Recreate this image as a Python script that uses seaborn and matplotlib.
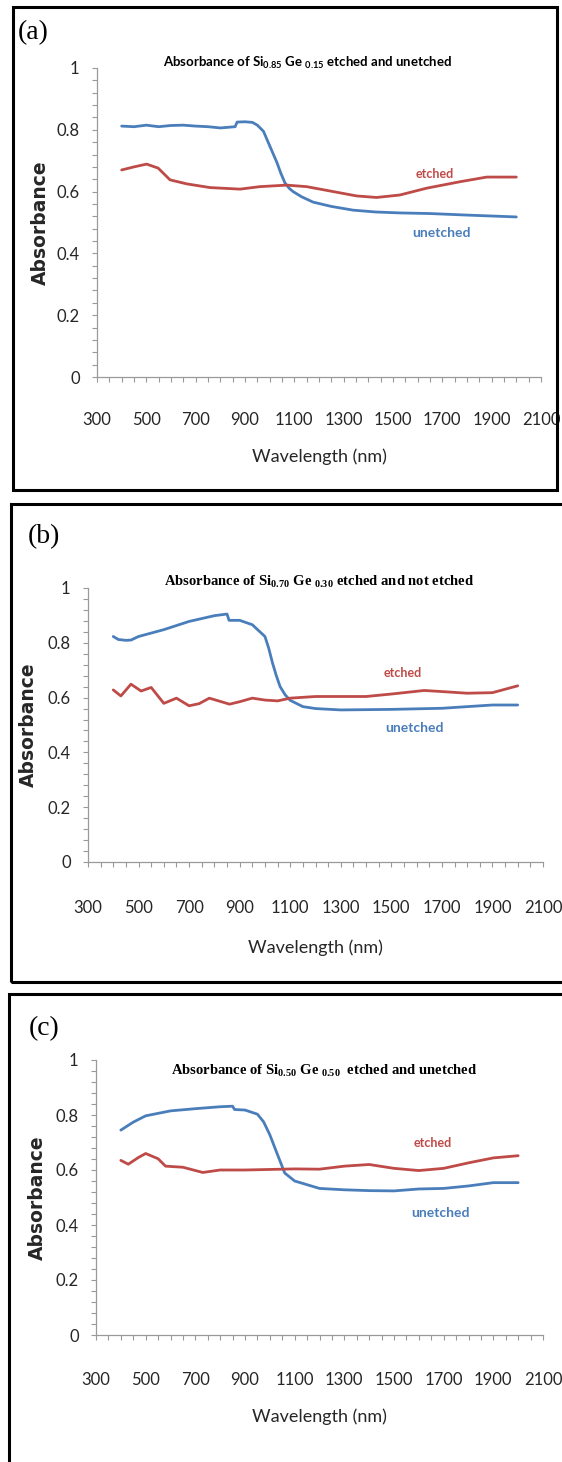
import matplotlib
matplotlib.use("Agg")
import matplotlib.pyplot as plt
from matplotlib.patches import Rectangle
from matplotlib.ticker import MultipleLocator, FuncFormatter
import pandas as pd
import seaborn as sns

# ---------------------------------------------------------------------------
# Data (wavelength in nm, absorbance)
# ---------------------------------------------------------------------------
# (a) Si0.85 Ge0.15
A_WL_UNETCHED = [400, 450, 500, 550, 600, 650, 700, 750, 800, 860, 868, 900, 930, 950,
                 975, 990, 1010, 1030, 1045, 1062, 1080, 1095, 1130, 1176, 1250, 1338,
                 1430, 1528, 1650, 1800, 1900, 2000]
A_AB_UNETCHED = [0.812, 0.810, 0.815, 0.810, 0.814, 0.815, 0.812, 0.810, 0.806, 0.810,
                 0.825, 0.826, 0.824, 0.815, 0.795, 0.767, 0.730, 0.693, 0.660, 0.628,
                 0.610, 0.600, 0.583, 0.566, 0.552, 0.540, 0.534, 0.531, 0.529, 0.524,
                 0.521, 0.518]
A_WL_ETCHED = [400, 450, 501, 548, 596, 664, 758, 880, 960, 1069, 1150, 1258, 1352,
               1433, 1528, 1636, 1772, 1880, 2000]
A_AB_ETCHED = [0.670, 0.680, 0.689, 0.676, 0.638, 0.625, 0.613, 0.608, 0.616, 0.621,
               0.616, 0.600, 0.586, 0.581, 0.589, 0.611, 0.632, 0.647, 0.647]

# (b) Si0.70 Ge0.30
B_WL_UNETCHED = [400, 420, 450, 470, 500, 600, 700, 800, 850, 858, 900, 950, 1000, 1015,
                 1030, 1045, 1060, 1080, 1100, 1150, 1200, 1300, 1500, 1700, 1900, 2000]
B_AB_UNETCHED = [0.823, 0.812, 0.809, 0.810, 0.823, 0.848, 0.878, 0.899, 0.905, 0.882,
                 0.882, 0.866, 0.823, 0.780, 0.726, 0.680, 0.640, 0.610, 0.590, 0.567,
                 0.560, 0.555, 0.557, 0.561, 0.573, 0.573]
B_WL_ETCHED = [400, 430, 470, 510, 550, 600, 650, 700, 740, 780, 860, 900, 950, 1000,
               1050, 1100, 1200, 1400, 1500, 1630, 1700, 1800, 1900, 2000]
B_AB_ETCHED = [0.628, 0.606, 0.649, 0.624, 0.637, 0.579, 0.598, 0.570, 0.578, 0.598,
               0.576, 0.585, 0.598, 0.591, 0.588, 0.598, 0.604, 0.604, 0.613, 0.626,
               0.622, 0.616, 0.618, 0.643]

# (c) Si0.50 Ge0.50
C_WL_UNETCHED = [400, 450, 500, 600, 700, 800, 850, 858, 900, 950, 975, 1000, 1030,
                 1060, 1100, 1200, 1300, 1400, 1500, 1600, 1700, 1800, 1900, 2000]
C_AB_UNETCHED = [0.745, 0.774, 0.797, 0.815, 0.823, 0.830, 0.832, 0.820, 0.818, 0.803,
                 0.775, 0.728, 0.658, 0.589, 0.560, 0.533, 0.528, 0.525, 0.524, 0.531,
                 0.533, 0.542, 0.554, 0.554]
C_WL_ETCHED = [400, 430, 470, 500, 550, 580, 650, 730, 800, 900, 1100, 1200, 1300,
               1400, 1500, 1600, 1700, 1800, 1900, 2000]
C_AB_ETCHED = [0.635, 0.621, 0.645, 0.660, 0.641, 0.614, 0.610, 0.591, 0.600, 0.600,
               0.604, 0.603, 0.614, 0.620, 0.606, 0.598, 0.606, 0.626, 0.644, 0.652]

X_TICKS = [300, 500, 700, 900, 1100, 1300, 1500, 1700, 1900, 2100]
TITLES = [
    r"Absorbance of Si$_\mathregular{0.85}$ Ge $_\mathregular{0.15}$ etched and unetched",
    r"Absorbance of Si$_\mathregular{0.70}$ Ge $_\mathregular{0.30}$ etched and not etched",
    r"Absorbance of Si$_\mathregular{0.50}$ Ge $_\mathregular{0.50}$  etched and unetched",
]
PANEL_TAGS = ["(a)", "(b)", "(c)"]
# where the "etched" / "unetched" notes sit, in data units
NOTE_ETCHED = [(1670, 0.657), (1547, 0.690), (1655, 0.698)]
NOTE_UNETCHED = [(1695, 0.466), (1590, 0.489), (1687, 0.444)]

# ---------------------------------------------------------------------------
# Layout (pixels of the 562x1462 image)
# ---------------------------------------------------------------------------
W, H, DPI = 562, 1462, 100
BLUE = "#4a7ebb"
RED = "#be4b48"
AXIS_GREY = "#9a9a9a"
TEXT_GREY = "#262626"

LAYOUT = [
    dict(box=(13, 7, 557, 490), axes=(97, 68, 541, 377), title=(308, 63), tag=(33, 33),
         ylab_x=40, xlab_y=457, tick_y=417, title_font="Lato", title_size=9.5),
    dict(box=(11, 504, 640, 982), axes=(88, 588, 543, 862), title=(319, 582), tag=(44, 537),
         ylab_x=28, xlab_y=948, tick_y=905, title_font="Liberation Serif", title_size=10.5),
    dict(box=(9, 994, 640, 1520), axes=(96, 1060, 543, 1335), title=(324, 1071), tag=(44, 1029),
         ylab_x=37, xlab_y=1417, tick_y=1377, title_font="Liberation Serif", title_size=10.5),
]


def fx(x):
    return x / W


def fy(y):
    return 1 - y / H


def draw_panel(fig, lay, wl_u, ab_u, wl_e, ab_e, title, tag, note_e, note_u):
    """Draw one absorbance panel with its frame and labels."""
    l, t, r, b = lay["axes"]
    ax = fig.add_axes([fx(l), fy(b), fx(r) - fx(l), (b - t) / H])
    ax.set_facecolor("none")

    df = pd.concat([
        pd.DataFrame({"wl": wl_u, "ab": ab_u, "kind": "unetched"}),
        pd.DataFrame({"wl": wl_e, "ab": ab_e, "kind": "etched"}),
    ])
    sns.lineplot(data=df, x="wl", y="ab", hue="kind", estimator=None,
                 palette={"unetched": BLUE, "etched": RED}, linewidth=2.0,
                 legend=False, ax=ax)

    ax.set_xlim(300, 2100)
    ax.set_ylim(0, 1)
    ax.set_xticks(X_TICKS)
    ax.xaxis.set_minor_locator(MultipleLocator(50))
    ax.yaxis.set_major_locator(MultipleLocator(0.2))
    ax.yaxis.set_minor_locator(MultipleLocator(0.04))
    ax.yaxis.set_major_formatter(FuncFormatter(lambda v, p: f"{v:g}"))
    ax.set_xlabel("")
    ax.set_ylabel("")

    for side in ["top", "right"]:
        ax.spines[side].set_visible(False)
    for side in ["left", "bottom"]:
        ax.spines[side].set_color(AXIS_GREY)
        ax.spines[side].set_linewidth(0.9)

    xpad = (lay["tick_y"] - b - 4 - 6) * 0.72
    ax.tick_params(which="both", direction="out", length=3.5, width=0.8,
                   color=AXIS_GREY, labelcolor=TEXT_GREY, bottom=True, left=True)
    ax.tick_params(axis="x", which="major", pad=xpad, labelsize=12)
    ax.tick_params(axis="y", which="major", pad=9, labelsize=12)
    for lab in ax.get_xticklabels() + ax.get_yticklabels():
        lab.set_fontfamily("Lato")

    # in-plot notes
    ax.text(*note_e, "etched", color=RED, fontsize=9, fontfamily="Lato",
            fontweight="bold", ha="center", va="center")
    ax.text(*note_u, "unetched", color=BLUE, fontsize=10, fontfamily="Lato",
            fontweight="bold", ha="center", va="center")

    # labels in figure space
    fig.text(fx(lay["ylab_x"]), fy((t + b) / 2), "Absorbance", rotation=90,
             fontsize=13.5, fontweight="bold", fontfamily="DejaVu Sans",
             color=TEXT_GREY, ha="center", va="center")
    fig.text(fx((l + r) / 2), fy(lay["xlab_y"]), "Wavelength (nm)", fontsize=13,
             fontfamily="Lato", color=TEXT_GREY, ha="center", va="center")
    fig.text(fx(lay["title"][0]), fy(lay["title"][1]), title, fontsize=lay["title_size"],
             fontweight="bold", fontfamily=lay["title_font"], color="black",
             ha="center", va="center")
    fig.text(fx(lay["tag"][0]), fy(lay["tag"][1]), tag, fontsize=20,
             fontfamily="Liberation Serif", color="black", ha="center", va="center")

    # black frame around the panel
    bl, bt, br, bb = lay["box"]
    fig.patches.append(Rectangle((fx(bl), fy(bb)), fx(br) - fx(bl), (bb - bt) / H,
                                 transform=fig.transFigure, fill=False,
                                 edgecolor="black", linewidth=2.2))
    return ax


sns.set_theme(style="white")
plt.rcParams["font.family"] = ["Lato", "DejaVu Sans"]

fig = plt.figure(figsize=(W / DPI, H / DPI), dpi=DPI)
fig.patch.set_facecolor("white")

series = [
    (A_WL_UNETCHED, A_AB_UNETCHED, A_WL_ETCHED, A_AB_ETCHED),
    (B_WL_UNETCHED, B_AB_UNETCHED, B_WL_ETCHED, B_AB_ETCHED),
    (C_WL_UNETCHED, C_AB_UNETCHED, C_WL_ETCHED, C_AB_ETCHED),
]
for i, (wu, au, we, ae) in enumerate(series):
    draw_panel(fig, LAYOUT[i], wu, au, we, ae, TITLES[i], PANEL_TAGS[i],
               NOTE_ETCHED[i], NOTE_UNETCHED[i])

fig.savefig("out.png", dpi=DPI)
plt.close(fig)
